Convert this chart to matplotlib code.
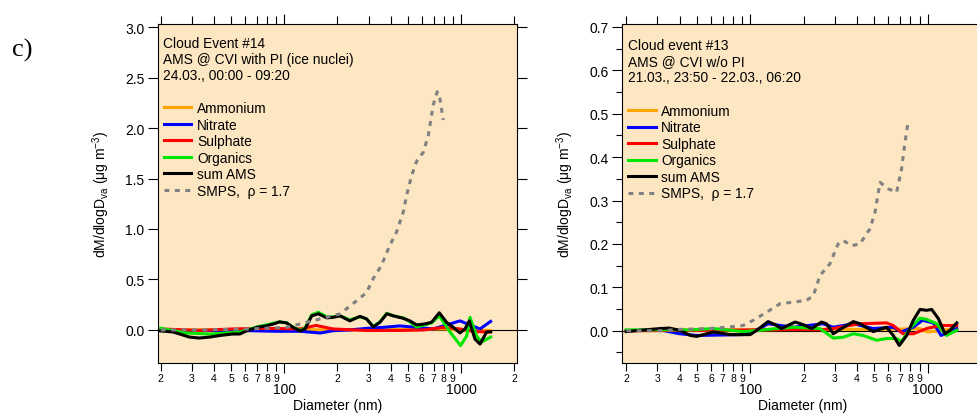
# AMS / SMPS mass size distributions for two cloud events (panel c)
import matplotlib
matplotlib.use("Agg")
import matplotlib.pyplot as plt
import matplotlib.ticker as mticker
import numpy as np

plt.rcParams['font.family'] = ['Liberation Sans', 'DejaVu Sans']
plt.rcParams['mathtext.fontset'] = 'custom'
plt.rcParams['mathtext.rm'] = 'Liberation Sans'
plt.rcParams['mathtext.it'] = 'Liberation Sans:italic'

### DATA ###
# left panel: cloud event #14
d14_smps = [20, 33, 64, 103, 134, 174, 207, 225, 257, 292, 319, 355, 396, 432, 472,
            492, 526, 561, 612, 654, 697, 734, 760, 794]
m14_smps = [0.0, 0.0, 0.01, 0.026, 0.076, 0.126, 0.16, 0.21, 0.29, 0.37, 0.51, 0.64, 0.84, 0.97, 1.17,
            1.33, 1.53, 1.67, 1.76, 1.93, 2.23, 2.36, 2.29, 2.08]
d14_sum = [20, 23.5, 29, 33, 38, 43, 51, 56, 61, 70, 79, 87, 94, 103, 112, 123, 131, 143, 156, 174,
           189, 207, 235, 268, 292, 319, 348, 380, 414, 472, 514, 561, 625, 682, 754, 829, 905, 987,
           1054, 1115, 1200, 1282, 1397, 1472]
m14_sum = [-0.01, -0.02, -0.07, -0.08, -0.07, -0.055, -0.04, -0.04, -0.01, 0.026, 0.04, 0.06, 0.08,
           0.07, 0.026, -0.01, 0.01, 0.14, 0.16, 0.12, 0.125, 0.14, 0.09, 0.135, 0.11, 0.03, 0.076,
           0.16, 0.14, 0.115, 0.09, 0.05, 0.06, 0.076, 0.17, 0.076, 0.026, -0.03, 0.01, 0.09, -0.09,
           -0.14, -0.02, -0.017]
d14_org = [20, 28, 38, 56, 70, 94, 103, 112, 123, 131, 143, 156, 174, 189, 207, 235, 268, 292, 319,
           348, 380, 414, 472, 514, 561, 625, 682, 754, 867, 995, 1077, 1125, 1227, 1309, 1472]
m14_org = [0.017, -0.03, -0.04, -0.02, 0.03, 0.08, 0.07, 0.03, -0.005, 0.02, 0.15, 0.175, 0.13, 0.13,
           0.14, 0.1, 0.13, 0.11, 0.035, 0.08, 0.165, 0.14, 0.12, 0.08, 0.03, 0.05, 0.07, 0.14, -0.02,
           -0.155, -0.06, 0.125, -0.06, -0.12, -0.07]
d14_no3 = [20, 55, 90, 123, 160, 189, 235, 292, 363, 451, 561, 697, 867, 987, 1125, 1282, 1472]
m14_no3 = [-0.005, -0.005, -0.013, -0.013, -0.03, -0.007, 0.0, 0.016, 0.026, 0.04, 0.026, 0.01,
           0.06, 0.09, 0.05, 0.01, 0.085]
d14_so4 = [20, 33, 51, 79, 123, 151, 189, 292, 451, 612, 794, 987, 1183, 1472]
m14_so4 = [0.01, -0.005, 0.01, 0.016, 0.01, 0.045, 0.01, -0.005, -0.005, 0.0, 0.026, 0.01, -0.015, -0.02]
d14_nh4 = [20, 100, 200, 500, 800, 1000, 1472]
m14_nh4 = [0.0, 0.005, 0.0, 0.005, 0.01, 0.0, -0.005]

# right panel: cloud event #13
d13_smps = [20, 31, 40, 59, 74, 91, 104, 124, 147, 175, 208, 227, 247, 281, 313, 334, 372, 415,
            473, 505, 539, 600, 668, 713, 745, 778]
m13_smps = [0.0, 0.0, 0.003, 0.005, 0.008, 0.012, 0.024, 0.043, 0.062, 0.066, 0.07, 0.081, 0.127,
            0.154, 0.2, 0.208, 0.196, 0.2, 0.235, 0.273, 0.342, 0.327, 0.319, 0.373, 0.434, 0.484]
d13_sum = [20, 24, 31, 35, 40, 46, 50, 57, 62, 67, 77, 100, 109, 126, 138, 150, 179, 199, 222, 252,
           269, 294, 327, 381, 415, 494, 587, 640, 692, 762, 830, 905, 987, 1054, 1149, 1252, 1337, 1458]
m13_sum = [-0.002, 0.001, 0.005, 0.006, 0.001, -0.011, -0.013, -0.007, -0.003, -0.005, -0.009,
           -0.009, 0.001, 0.021, 0.014, 0.005, 0.02, 0.014, 0.005, 0.02, 0.016, -0.007, 0.005, 0.021,
           0.016, -0.002, 0.008, -0.011, -0.034, -0.011, 0.024, 0.049, 0.047, 0.049, 0.028, -0.007,
           0.001, 0.018]
d13_org = [20, 31, 46, 62, 91, 113, 141, 175, 247, 294, 334, 381, 433, 516, 587, 668, 713, 794, 905,
           987, 1128, 1278, 1458]
m13_org = [0.002, 0.002, 0.002, 0.005, -0.002, 0.001, 0.005, 0.008, 0.005, -0.017, -0.015, -0.007,
           -0.011, -0.022, -0.018, -0.018, -0.025, 0.005, 0.029, 0.026, 0.016, -0.011, 0.001]
d13_no3 = [20, 31, 40, 50, 91, 113, 126, 175, 257, 294, 381, 494, 640, 708, 830, 935, 1077, 1190, 1458]
m13_no3 = [0.0, 0.002, -0.007, -0.011, -0.009, 0.005, 0.016, 0.008, 0.016, 0.008, 0.016, 0.005,
           0.008, -0.003, 0.008, 0.024, 0.018, -0.011, 0.005]
d13_so4 = [20, 60, 113, 175, 250, 294, 363, 415, 587, 640, 727, 830, 987, 1180, 1458]
m13_so4 = [0.0, 0.001, 0.002, 0.003, 0.002, 0.005, 0.012, 0.016, 0.018, 0.012, -0.007, -0.007,
           0.005, 0.012, 0.012]
d13_nh4 = [20, 100, 300, 600, 900, 1000, 1458]
m13_nh4 = [0.0, 0.002, 0.003, 0.003, 0.005, -0.003, 0.005]

names = ["Ammonium", "Nitrate", "Sulphate", "Organics", "sum AMS", "SMPS,  \u03c1 = 1.7"]
colors = ["#FFA500", "#0000FF", "#FF0000", "#00E600", "#000000", "#808080"]
bg = "#FDE6C2"


def make_minor_fmt(vmax):
    # label minor log ticks with their leading digit (2..9), skip ticks past vmax
    def fmt(v, pos):
        if v > vmax:
            return ""
        e = np.floor(np.log10(v) + 1e-9)
        d = int(round(v / 10 ** e))
        return str(d) if 2 <= d <= 9 else ""
    return fmt


def major_label(v, pos):
    return "%d" % round(v)


def panel(ax, series, header, xlim, ylim, ymaj, ymin, legend_xy, header_xy, lab_max):
    ax.set_facecolor(bg)
    ax.axhline(0, color="k", lw=0.8, zorder=1)
    for (d, m), c, n in zip(series, colors, names):
        if c == "#808080":
            ax.plot(d, m, color=c, lw=2.2, dashes=(1.6, 1.8), label=n, zorder=3)
        else:
            ax.plot(d, m, color=c, lw=2.2, label=n, zorder=2)
    ax.set_xscale("log")
    ax.set_xlim(xlim)
    ax.set_ylim(ylim)
    ax.xaxis.set_major_locator(mticker.LogLocator(base=10, subs=(1.0,)))
    ax.xaxis.set_minor_locator(mticker.LogLocator(base=10, subs=np.arange(2, 10), numticks=20))
    ax.xaxis.set_major_formatter(mticker.FuncFormatter(major_label))
    ax.xaxis.set_minor_formatter(mticker.FuncFormatter(make_minor_fmt(lab_max)))
    ax.yaxis.set_major_locator(mticker.MultipleLocator(ymaj))
    if ymin:
        ax.yaxis.set_minor_locator(mticker.MultipleLocator(ymin))
    else:
        ax.yaxis.set_minor_locator(mticker.NullLocator())
    ax.yaxis.set_major_formatter(mticker.FormatStrFormatter("%.1f"))
    ax.tick_params(axis="both", which="both", direction="out", top=True, right=True, width=0.8)
    ax.tick_params(axis="x", which="major", length=7.5, pad=6.5, labelsize=10)
    ax.tick_params(axis="x", which="minor", length=5.5, pad=1.5, labelsize=7.5)
    ax.tick_params(axis="y", which="major", length=7.5, pad=2, labelsize=10)
    ax.tick_params(axis="y", which="minor", length=4.5)
    for s in ax.spines.values():
        s.set_linewidth(0.8)
    ax.set_xlabel("Diameter (nm)", fontsize=10, labelpad=1)
    ax.set_ylabel(r"dM/dlogD$_{\mathregular{va}}$ ($\mathregular{\mu}$g m$^{\mathregular{-3}}$)", fontsize=10)
    ax.yaxis.set_label_coords(-0.128, 0.5)
    ax.text(header_xy[0], header_xy[1], header, transform=ax.transAxes, fontsize=9.9,
            va="top", ha="left", linespacing=1.2)
    ax.legend(loc="upper left", bbox_to_anchor=legend_xy, frameon=False, fontsize=9.9,
              handlelength=2.0, handletextpad=0.4, labelspacing=0.18, borderpad=0,
              borderaxespad=0)


fig = plt.figure(figsize=(9.78, 4.14), dpi=100)
ax1 = fig.add_axes([0.1612, 0.1208, 0.3674, 0.8188])
ax2 = fig.add_axes([0.6363, 0.1208, 0.3678, 0.8188])

panel(ax1,
      [(d14_nh4, m14_nh4), (d14_no3, m14_no3), (d14_so4, m14_so4), (d14_org, m14_org),
       (d14_sum, m14_sum), (d14_smps, m14_smps)],
      "Cloud Event #14\nAMS @ CVI with PI (ice nuclei)\n24.03., 00:00 - 09:20",
      (19.2, 2075), (-0.327, 3.03), 0.5, None, (0.0175, 0.772), (0.016, 0.966), 2100)
panel(ax2,
      [(d13_nh4, m13_nh4), (d13_no3, m13_no3), (d13_so4, m13_so4), (d13_org, m13_org),
       (d13_sum, m13_sum), (d13_smps, m13_smps)],
      "Cloud event #13\nAMS @ CVI w/o PI\n21.03., 23:50 - 22.03., 06:20",
      (19.0, 2025), (-0.0744, 0.7069), 0.1, 0.05, (0.0167, 0.764), (0.017, 0.959), 1900)

fig.text(0.012, 0.878, "c)", fontsize=19, family="Liberation Serif", va="center", ha="left")

fig.savefig("out.png", dpi=100)
